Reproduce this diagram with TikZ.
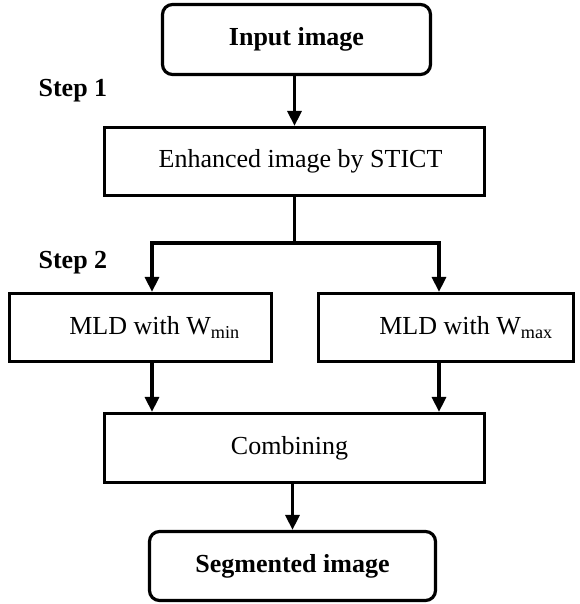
\documentclass[tikz,border=0pt]{standalone}
\usepackage{fontspec}
\setmainfont{Liberation Serif}
\usetikzlibrary{arrows.meta}

\begin{document}
\begin{tikzpicture}
    [x=1pt,y=-1pt,line width=3.2pt,
     font=\fontsize{26}{30}\selectfont,
     >={Triangle[length=15pt,width=14pt]}]
\useasboundingbox (0,0) rectangle (579,604);

\path
    [draw,rounded corners=10pt,font=\fontsize{26}{30}\selectfont\bfseries]
    (296.5,39.5) node [draw,minimum width=268pt,minimum height=70pt] (input) {Input image}
    (292.5,566) node [draw,minimum width=286pt,minimum height=69pt] (seg) {Segmented image};
\path
    [minimum height=68pt]
    (294.5,161.5) node [draw,minimum width=380pt] (enh) {\hspace*{12pt}Enhanced image by STICT}
    (140.5,327.5) node [draw,minimum width=262pt] (mldmin) {\hspace*{28pt}MLD with W\textsubscript{min}}
    (446,327.5) node [draw,minimum width=255pt] (mldmax) {\hspace*{40pt}MLD with W\textsubscript{max}}
    (294.5,448) node [draw,minimum width=380pt,minimum height=69pt] (comb) {Combining\hspace*{10pt}};
\path
    [font=\fontsize{26}{30}\selectfont\bfseries]
    (37,97) node [anchor=base west,inner sep=0pt] (step1) {Step 1}
    (37,268) node [anchor=base west,inner sep=0pt] (step2) {Step 2};

\coordinate (split) at (294.5,243);
\coordinate (lsplit) at (152,243);
\coordinate (rsplit) at (439,243);
\draw
    [->] (enh.north |- input.south) -- (enh.north);
\draw
    (enh.south) -- (split);
\draw
    [<->] (lsplit |- mldmin.north) -- (lsplit) -- (rsplit) -- (rsplit |- mldmax.north);
\draw
    [->] (lsplit |- mldmin.south) -- (lsplit |- comb.north);
\draw
    [->] (rsplit |- mldmax.south) -- (rsplit |- comb.north);
\draw
    [->] (seg.north |- comb.south) -- (seg.north);
\end{tikzpicture}
\end{document}
